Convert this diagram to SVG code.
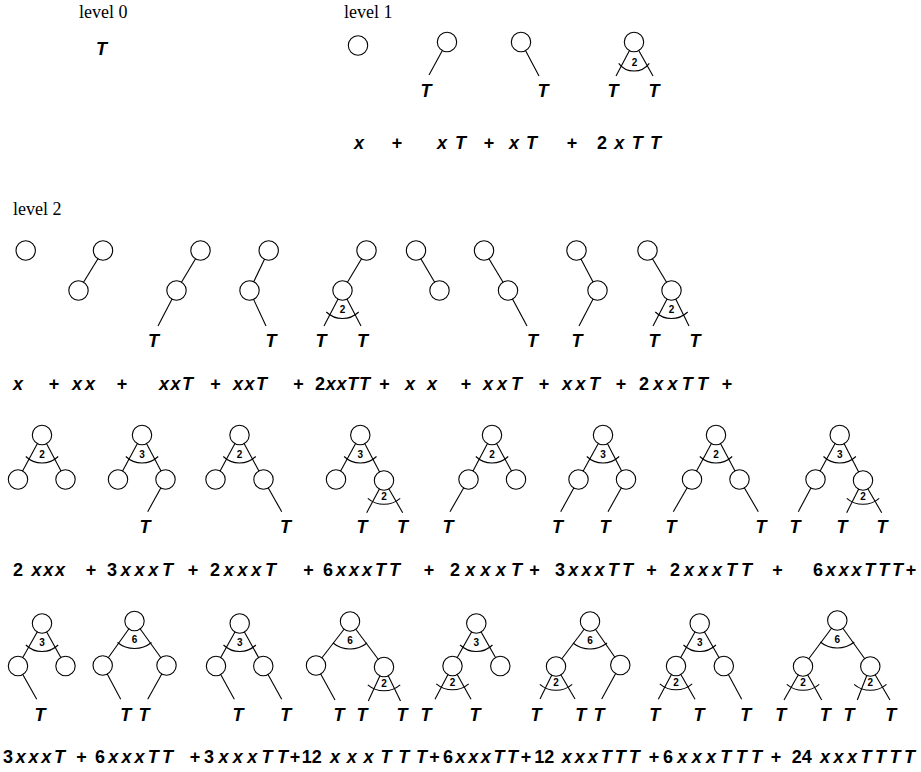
<svg xmlns="http://www.w3.org/2000/svg" xmlns:xlink="http://www.w3.org/1999/xlink" width="921" height="772" viewBox="0 0 921 772">
<style>
.bg{fill:#fff}
.lbl{font-family:"Liberation Serif","Times New Roman",serif;font-size:18px;fill:#000}
.t{font-family:"Liberation Sans",Arial,sans-serif;font-weight:bold;font-style:italic;font-size:18px;fill:#000;text-anchor:middle}
.eq{font-family:"Liberation Sans",Arial,sans-serif;font-weight:bold;font-style:italic;font-size:18px;fill:#000}
.u{font-style:normal}
.p{font-family:"Liberation Sans",Arial,sans-serif;font-weight:bold;font-size:18px;fill:#000;text-anchor:middle}
.k{font-family:"Liberation Sans",Arial,sans-serif;font-weight:bold;font-size:10px;fill:#000;text-anchor:middle}
.n{fill:#fff;stroke:#000;stroke-width:1.1}
.e line{stroke:#000;stroke-width:1.1}
.a{fill:none;stroke:#000;stroke-width:1.1}
</style>
<defs>
<path id="arcA" class="a" d="M-16.2 21.5 A23.4 23.4 0 0 0 16.2 21.5"/>
<path id="arcB" class="a" d="M-16.2 17.8 A24.8 24.8 0 0 0 16.2 17.8"/>
<path id="arc6" class="a" d="M-17 21.5 A27.1 27.1 0 0 0 17 21.5"/>
</defs>
<rect class="bg" x="0" y="0" width="921" height="772"/>

<text class="lbl" x="79" y="18">level 0</text>
<text class="lbl" x="344" y="18">level 1</text>
<text class="lbl" x="13" y="215">level 2</text>

<g id="connectors" class="e">
<line x1="447" y1="42" x2="429" y2="75"/>
<line x1="521" y1="42" x2="539" y2="76"/>
<line x1="634" y1="42" x2="616" y2="76"/>
<line x1="634" y1="42" x2="653" y2="76"/>

<line x1="103" y1="250.5" x2="78.5" y2="290.5"/>
<line x1="200.5" y1="250.5" x2="176.5" y2="290.5"/>
<line x1="176.5" y1="290.5" x2="158" y2="326"/>
<line x1="268.7" y1="250.5" x2="249.5" y2="290.5"/>
<line x1="249.5" y1="290.5" x2="266" y2="326"/>
<line x1="366.5" y1="250.5" x2="342.5" y2="290.5"/>
<line x1="342.5" y1="290.5" x2="324" y2="326"/>
<line x1="342.5" y1="290.5" x2="361" y2="326"/>
<line x1="416" y1="250.5" x2="439.5" y2="290.5"/>
<line x1="484" y1="250.5" x2="508" y2="290.5"/>
<line x1="508" y1="290.5" x2="527" y2="326"/>
<line x1="576.5" y1="250.5" x2="597.5" y2="290.5"/>
<line x1="597.5" y1="290.5" x2="579" y2="326"/>
<line x1="647.5" y1="250.5" x2="671.5" y2="290.5"/>
<line x1="671.5" y1="290.5" x2="653" y2="326"/>
<line x1="671.5" y1="290.5" x2="689" y2="326"/>

<line x1="42" y1="435" x2="18" y2="479.5"/>
<line x1="42" y1="435" x2="65.5" y2="479.5"/>
<line x1="142" y1="435" x2="118" y2="479.5"/>
<line x1="142" y1="435" x2="165.5" y2="479.5"/>
<line x1="165.5" y1="479.5" x2="147.7" y2="511.7"/>
<line x1="239.5" y1="435" x2="215.5" y2="479.5"/>
<line x1="239.5" y1="435" x2="263.5" y2="479.5"/>
<line x1="263.5" y1="479.5" x2="281.7" y2="511.7"/>
<line x1="360.3" y1="435" x2="336" y2="479.5"/>
<line x1="360.3" y1="435" x2="384" y2="480.5"/>
<line x1="384" y1="480.5" x2="366.7" y2="512.7"/>
<line x1="384" y1="480.5" x2="402.7" y2="512.7"/>
<line x1="492" y1="435" x2="468.5" y2="479.5"/>
<line x1="492" y1="435" x2="516" y2="479.5"/>
<line x1="468.5" y1="479.5" x2="450" y2="511.7"/>
<line x1="603" y1="435" x2="578.5" y2="479.5"/>
<line x1="603" y1="435" x2="626" y2="479.5"/>
<line x1="578.5" y1="479.5" x2="560.7" y2="511.7"/>
<line x1="626" y1="479.5" x2="608" y2="511.7"/>
<line x1="716" y1="435" x2="692" y2="479.5"/>
<line x1="716" y1="435" x2="739.5" y2="479.5"/>
<line x1="692" y1="479.5" x2="673.3" y2="511.7"/>
<line x1="739.5" y1="479.5" x2="758.3" y2="511.7"/>
<line x1="839.7" y1="435" x2="815.5" y2="479.5"/>
<line x1="839.7" y1="435" x2="863" y2="480.5"/>
<line x1="815.5" y1="479.5" x2="798.3" y2="511.7"/>
<line x1="863" y1="480.5" x2="846.7" y2="512.7"/>
<line x1="863" y1="480.5" x2="881.7" y2="512.7"/>

<line x1="42" y1="623.5" x2="18" y2="666"/>
<line x1="42" y1="623.5" x2="65.5" y2="666"/>
<line x1="18" y1="666" x2="36.7" y2="699.3"/>
<line x1="134.5" y1="621" x2="102.7" y2="665.5"/>
<line x1="134.5" y1="621" x2="166.5" y2="665.5"/>
<line x1="102.7" y1="665.5" x2="120.7" y2="699.3"/>
<line x1="166.5" y1="665.5" x2="147.7" y2="699.3"/>
<line x1="239.7" y1="623.5" x2="216" y2="666"/>
<line x1="239.7" y1="623.5" x2="263.3" y2="666"/>
<line x1="216" y1="666" x2="234.3" y2="699.3"/>
<line x1="263.3" y1="666" x2="281.7" y2="699.3"/>
<line x1="350" y1="621.5" x2="316" y2="665.5"/>
<line x1="350" y1="621.5" x2="384" y2="667"/>
<line x1="316" y1="665.5" x2="335" y2="700"/>
<line x1="384" y1="667" x2="368.3" y2="701"/>
<line x1="384" y1="667" x2="400.5" y2="701"/>
<line x1="476.3" y1="623.5" x2="452.5" y2="666"/>
<line x1="476.3" y1="623.5" x2="500.3" y2="666"/>
<line x1="452.5" y1="666" x2="435" y2="699.3"/>
<line x1="452.5" y1="666" x2="471" y2="699.3"/>
<line x1="590" y1="621.5" x2="556" y2="666.5"/>
<line x1="590" y1="621.5" x2="620.3" y2="665"/>
<line x1="556" y1="666.5" x2="540" y2="699"/>
<line x1="556" y1="666.5" x2="575" y2="699"/>
<line x1="620.3" y1="665" x2="601.7" y2="699"/>
<line x1="699.7" y1="623.5" x2="676" y2="666"/>
<line x1="699.7" y1="623.5" x2="723.8" y2="666"/>
<line x1="676" y1="666" x2="658.3" y2="699.3"/>
<line x1="676" y1="666" x2="695" y2="699.3"/>
<line x1="723.8" y1="666" x2="741.7" y2="699.3"/>
<line x1="837.3" y1="620.5" x2="803" y2="666.5"/>
<line x1="837.3" y1="620.5" x2="870.3" y2="666.5"/>
<line x1="803" y1="666.5" x2="784" y2="700"/>
<line x1="803" y1="666.5" x2="821.7" y2="700"/>
<line x1="870.3" y1="666.5" x2="857.3" y2="700"/>
<line x1="870.3" y1="666.5" x2="890" y2="700"/>
</g>

<!-- level 0 -->
<g id="l0"><text class="t" x="101.5" y="55">T</text></g>

<!-- level 1 -->
<g id="l1a"><circle class="n" cx="358" cy="45.5" r="9.7"/></g>
<g id="l1b"><circle class="n" cx="447" cy="42" r="9.7"/><text class="t" x="426" y="96.5">T</text></g>
<g id="l1c"><circle class="n" cx="521" cy="42" r="9.7"/><text class="t" x="543" y="96.5">T</text></g>
<g id="l1d"><circle class="n" cx="634" cy="42" r="9.7"/>
<path class="a" d="M618.7 63.3 A19 19 0 0 0 649.3 63.3"/>
<text class="k" x="634.5" y="65.9">2</text>
<text class="t" x="613" y="96.5">T</text><text class="t" x="654" y="96.5">T</text></g>

<!-- level 2 row 1 -->
<g id="l2a"><circle class="n" cx="25.7" cy="250.5" r="9.7"/></g>
<g id="l2b"><circle class="n" cx="103" cy="250.5" r="9.7"/><circle class="n" cx="78.5" cy="290.5" r="9.7"/></g>
<g id="l2c"><circle class="n" cx="200.5" cy="250.5" r="9.7"/><circle class="n" cx="176.5" cy="290.5" r="9.7"/><text class="t" x="153.5" y="346.7">T</text></g>
<g id="l2d"><circle class="n" cx="268.7" cy="250.5" r="9.7"/><circle class="n" cx="249.5" cy="290.5" r="9.7"/><text class="t" x="271" y="346.7">T</text></g>
<g id="l2e"><circle class="n" cx="366.5" cy="250.5" r="9.7"/><circle class="n" cx="342.5" cy="290.5" r="9.7"/>
<use xlink:href="#arcA" href="#arcA" x="342.5" y="290.5"/><text class="k" x="342.5" y="313.1">2</text>
<text class="t" x="321" y="346.7">T</text><text class="t" x="362.5" y="346.7">T</text></g>
<g id="l2f"><circle class="n" cx="416" cy="250.5" r="9.7"/><circle class="n" cx="439.5" cy="290.5" r="9.7"/></g>
<g id="l2g"><circle class="n" cx="484" cy="250.5" r="9.7"/><circle class="n" cx="508" cy="290.5" r="9.7"/><text class="t" x="532.5" y="346.7">T</text></g>
<g id="l2h"><circle class="n" cx="576.5" cy="250.5" r="9.7"/><circle class="n" cx="597.5" cy="290.5" r="9.7"/><text class="t" x="577" y="346.7">T</text></g>
<g id="l2i"><circle class="n" cx="647.5" cy="250.5" r="9.7"/><circle class="n" cx="671.5" cy="290.5" r="9.7"/>
<use xlink:href="#arcA" href="#arcA" x="671.5" y="290.5"/><text class="k" x="671.5" y="313.1">2</text>
<text class="t" x="654" y="346.7">T</text><text class="t" x="695" y="346.7">T</text></g>

<!-- row 3 -->
<g id="r3a"><circle class="n" cx="42" cy="435" r="9.7"/><circle class="n" cx="18" cy="479.5" r="9.7"/><circle class="n" cx="65.5" cy="479.5" r="9.7"/>
<use xlink:href="#arcA" href="#arcA" x="42" y="435"/><text class="k" x="42" y="457.6">2</text></g>
<g id="r3b"><circle class="n" cx="142" cy="435" r="9.7"/><circle class="n" cx="118" cy="479.5" r="9.7"/><circle class="n" cx="165.5" cy="479.5" r="9.7"/>
<use xlink:href="#arcA" href="#arcA" x="142" y="435"/><text class="k" x="142" y="457.6">3</text>
<text class="t" x="145" y="533.3">T</text></g>
<g id="r3c"><circle class="n" cx="239.5" cy="435" r="9.7"/><circle class="n" cx="215.5" cy="479.5" r="9.7"/><circle class="n" cx="263.5" cy="479.5" r="9.7"/>
<use xlink:href="#arcA" href="#arcA" x="239.5" y="435"/><text class="k" x="239.5" y="457.6">2</text>
<text class="t" x="285.5" y="533.3">T</text></g>
<g id="r3d"><circle class="n" cx="360.3" cy="435" r="9.7"/><circle class="n" cx="336" cy="479.5" r="9.7"/><circle class="n" cx="384" cy="480.5" r="9.7"/>
<use xlink:href="#arcA" href="#arcA" x="360.3" y="435"/><text class="k" x="360.3" y="457.6">3</text>
<use xlink:href="#arcB" href="#arcB" x="384" y="480.5"/><text class="k" x="384" y="500.4">2</text>
<text class="t" x="362" y="533.3">T</text><text class="t" x="402.5" y="533.3">T</text></g>
<g id="r3e"><circle class="n" cx="492" cy="435" r="9.7"/><circle class="n" cx="468.5" cy="479.5" r="9.7"/><circle class="n" cx="516" cy="479.5" r="9.7"/>
<use xlink:href="#arcA" href="#arcA" x="492" y="435"/><text class="k" x="492" y="457.6">2</text>
<text class="t" x="448" y="533.3">T</text></g>
<g id="r3f"><circle class="n" cx="603" cy="435" r="9.7"/><circle class="n" cx="578.5" cy="479.5" r="9.7"/><circle class="n" cx="626" cy="479.5" r="9.7"/>
<use xlink:href="#arcA" href="#arcA" x="603" y="435"/><text class="k" x="603" y="457.6">3</text>
<text class="t" x="557.5" y="533.3">T</text><text class="t" x="605" y="533.3">T</text></g>
<g id="r3g"><circle class="n" cx="716" cy="435" r="9.7"/><circle class="n" cx="692" cy="479.5" r="9.7"/><circle class="n" cx="739.5" cy="479.5" r="9.7"/>
<use xlink:href="#arcA" href="#arcA" x="716" y="435"/><text class="k" x="716" y="457.6">2</text>
<text class="t" x="671" y="533.3">T</text><text class="t" x="761" y="533.3">T</text></g>
<g id="r3h"><circle class="n" cx="839.7" cy="435" r="9.7"/><circle class="n" cx="815.5" cy="479.5" r="9.7"/><circle class="n" cx="863" cy="480.5" r="9.7"/>
<use xlink:href="#arcA" href="#arcA" x="839.7" y="435"/><text class="k" x="839.7" y="457.6">3</text>
<use xlink:href="#arcB" href="#arcB" x="863" y="480.5"/><text class="k" x="863" y="500.4">2</text>
<text class="t" x="795" y="533.3">T</text><text class="t" x="842" y="533.3">T</text><text class="t" x="882" y="533.3">T</text></g>

<!-- row 4 -->
<g id="r4a"><circle class="n" cx="42" cy="623.5" r="9.7"/><circle class="n" cx="18" cy="666" r="9.7"/><circle class="n" cx="65.5" cy="666" r="9.7"/>
<use xlink:href="#arcA" href="#arcA" x="42" y="623.5"/><text class="k" x="42" y="645.6">3</text>
<text class="t" x="40" y="721">T</text></g>
<g id="r4b"><circle class="n" cx="134.5" cy="621" r="9.7"/><circle class="n" cx="102.7" cy="665.5" r="9.7"/><circle class="n" cx="166.5" cy="665.5" r="9.7"/>
<use xlink:href="#arc6" href="#arc6" x="134.5" y="621"/><text class="k" x="134.5" y="642.6">6</text>
<text class="t" x="125.7" y="721">T</text><text class="t" x="144" y="721">T</text></g>
<g id="r4c"><circle class="n" cx="239.7" cy="623.5" r="9.7"/><circle class="n" cx="216" cy="666" r="9.7"/><circle class="n" cx="263.3" cy="666" r="9.7"/>
<use xlink:href="#arcA" href="#arcA" x="239.7" y="623.5"/><text class="k" x="239.7" y="645.6">3</text>
<text class="t" x="238" y="721">T</text><text class="t" x="285.7" y="721">T</text></g>
<g id="r4d"><circle class="n" cx="350" cy="621.5" r="9.7"/><circle class="n" cx="316" cy="665.5" r="9.7"/><circle class="n" cx="384" cy="667" r="9.7"/>
<use xlink:href="#arc6" href="#arc6" x="350" y="621.5"/><text class="k" x="350" y="644.1">6</text>
<use xlink:href="#arcB" href="#arcB" x="384" y="667"/><text class="k" x="384" y="686.9">2</text>
<text class="t" x="339" y="721">T</text><text class="t" x="362" y="721">T</text><text class="t" x="402" y="721">T</text></g>
<g id="r4e"><circle class="n" cx="476.3" cy="623.5" r="9.7"/><circle class="n" cx="452.5" cy="666" r="9.7"/><circle class="n" cx="500.3" cy="666" r="9.7"/>
<use xlink:href="#arcA" href="#arcA" x="476.3" y="623.5"/><text class="k" x="476.3" y="645.6">3</text>
<use xlink:href="#arcB" href="#arcB" x="452.5" y="666"/><text class="k" x="452.5" y="685.9">2</text>
<text class="t" x="426" y="721">T</text><text class="t" x="475" y="721">T</text></g>
<g id="r4f"><circle class="n" cx="590" cy="621.5" r="9.7"/><circle class="n" cx="556" cy="666.5" r="9.7"/><circle class="n" cx="620.3" cy="665" r="9.7"/>
<use xlink:href="#arc6" href="#arc6" x="590" y="621.5"/><text class="k" x="590" y="644.1">6</text>
<use xlink:href="#arcB" href="#arcB" x="556" y="666.5"/><text class="k" x="556" y="686.4">2</text>
<text class="t" x="536" y="721">T</text><text class="t" x="580.7" y="721">T</text><text class="t" x="599" y="721">T</text></g>
<g id="r4g"><circle class="n" cx="699.7" cy="623.5" r="9.7"/><circle class="n" cx="676" cy="666" r="9.7"/><circle class="n" cx="723.8" cy="666" r="9.7"/>
<use xlink:href="#arcA" href="#arcA" x="699.7" y="623.5"/><text class="k" x="699.7" y="645.6">3</text>
<use xlink:href="#arcB" href="#arcB" x="676" y="666"/><text class="k" x="676" y="685.9">2</text>
<text class="t" x="654.7" y="721">T</text><text class="t" x="699" y="721">T</text><text class="t" x="745.7" y="721">T</text></g>
<g id="r4h"><circle class="n" cx="837.3" cy="620.5" r="9.7"/><circle class="n" cx="803" cy="666.5" r="9.7"/><circle class="n" cx="870.3" cy="666.5" r="9.7"/>
<use xlink:href="#arc6" href="#arc6" x="837.3" y="620.5"/><text class="k" x="837.3" y="643.1">6</text>
<use xlink:href="#arcB" href="#arcB" x="803" y="666.5"/><text class="k" x="803" y="686.4">2</text>
<use xlink:href="#arcB" href="#arcB" x="870.3" y="666.5"/><text class="k" x="870.3" y="686.4">2</text>
<text class="t" x="780.7" y="721">T</text><text class="t" x="825.3" y="721">T</text><text class="t" x="849" y="721">T</text><text class="t" x="890.7" y="721">T</text></g>

<!-- equations -->
<g id="eq1">
<text class="eq" x="354" y="149">x</text>
<text class="p" x="397" y="149">+</text>
<text class="eq" x="437" y="149" textLength="29" lengthAdjust="spacing">x T</text>
<text class="p" x="489" y="149">+</text>
<text class="eq" x="509" y="149" textLength="28" lengthAdjust="spacing">x T</text>
<text class="p" x="572" y="149">+</text>
<text class="eq" x="597" y="149" textLength="64" lengthAdjust="spacing"><tspan class="u">2</tspan> x T T</text>
</g>
<g id="eq2">
<text class="eq" x="13" y="390">x</text>
<text class="p" x="54" y="390">+</text>
<text class="eq" x="72" y="390" textLength="23" lengthAdjust="spacing">xx</text>
<text class="p" x="122" y="390">+</text>
<text class="eq" x="159" y="390" textLength="34" lengthAdjust="spacing">xxT</text>
<text class="p" x="215.5" y="390">+</text>
<text class="eq" x="233" y="390" textLength="34" lengthAdjust="spacing">xxT</text>
<text class="p" x="298.5" y="390">+</text>
<text class="eq" x="315" y="390" textLength="55" lengthAdjust="spacing"><tspan class="u">2</tspan>xxTT</text>
<text class="p" x="384.5" y="390">+</text>
<text class="eq" x="405" y="390" textLength="32" lengthAdjust="spacing">x x</text>
<text class="p" x="466" y="390">+</text>
<text class="eq" x="483" y="390" textLength="39" lengthAdjust="spacing">xxT</text>
<text class="p" x="544" y="390">+</text>
<text class="eq" x="562" y="390" textLength="38" lengthAdjust="spacing">xxT</text>
<text class="p" x="621" y="390">+</text>
<text class="eq" x="639" y="390" textLength="69" lengthAdjust="spacing"><tspan class="u">2</tspan>xxTT</text>
<text class="p" x="727" y="390">+</text>
</g>
<g id="eq3">
<text class="eq" x="13" y="575.5" textLength="52" lengthAdjust="spacing"><tspan class="u">2</tspan> xxx</text>
<text class="p" x="91" y="575.5">+</text>
<text class="eq" x="107" y="575.5" textLength="66" lengthAdjust="spacing"><tspan class="u">3</tspan>xxxT</text>
<text class="p" x="193" y="575.5">+</text>
<text class="eq" x="210" y="575.5" textLength="66" lengthAdjust="spacing"><tspan class="u">2</tspan>xxxT</text>
<text class="p" x="308.5" y="575.5">+</text>
<text class="eq" x="323" y="575.5" textLength="77" lengthAdjust="spacing"><tspan class="u">6</tspan>xxxTT</text>
<text class="p" x="429" y="575.5">+</text>
<text class="eq" x="450" y="575.5" textLength="72" lengthAdjust="spacing"><tspan class="u">2</tspan>xxxT</text>
<text class="p" x="534.5" y="575.5">+</text>
<text class="eq" x="555" y="575.5" textLength="78" lengthAdjust="spacing"><tspan class="u">3</tspan>xxxTT</text>
<text class="p" x="651.5" y="575.5">+</text>
<text class="eq" x="670" y="575.5" textLength="82" lengthAdjust="spacing"><tspan class="u">2</tspan>xxxTT</text>
<text class="p" x="777.5" y="575.5">+</text>
<text class="eq" x="813" y="575.5" textLength="90" lengthAdjust="spacing"><tspan class="u">6</tspan>xxxTTT</text>
<text class="p" x="911" y="575.5">+</text>
</g>
<g id="eq4">
<text class="eq" x="3" y="763" textLength="62" lengthAdjust="spacing"><tspan class="u">3</tspan>xxxT</text>
<text class="p" x="81.5" y="763">+</text>
<text class="eq" x="95" y="763" textLength="78" lengthAdjust="spacing"><tspan class="u">6</tspan>xxxTT</text>
<text class="p" x="195" y="763">+</text>
<text class="eq" x="204" y="763" textLength="84" lengthAdjust="spacing"><tspan class="u">3</tspan>xxxTT</text>
<text class="p" x="295" y="763">+</text>
<text class="eq u" x="301.7" y="763">12</text>
<text class="eq" x="330" y="763" textLength="97" lengthAdjust="spacing">xxxTTT</text>
<text class="p" x="434.5" y="763">+</text>
<text class="eq" x="443" y="763" textLength="75" lengthAdjust="spacing"><tspan class="u">6</tspan>xxxTT</text>
<text class="p" x="526" y="763">+</text>
<text class="eq u" x="534.3" y="763">12</text>
<text class="eq" x="561.7" y="763" textLength="78" lengthAdjust="spacing">xxxTTT</text>
<text class="p" x="654" y="763">+</text>
<text class="eq" x="663" y="763" textLength="99" lengthAdjust="spacing"><tspan class="u">6</tspan>xxxTTT</text>
<text class="p" x="776" y="763">+</text>
<text class="eq u" x="791.7" y="763">24</text>
<text class="eq" x="820" y="763" textLength="95" lengthAdjust="spacing">xxxTTTT</text>
</g>
</svg>
